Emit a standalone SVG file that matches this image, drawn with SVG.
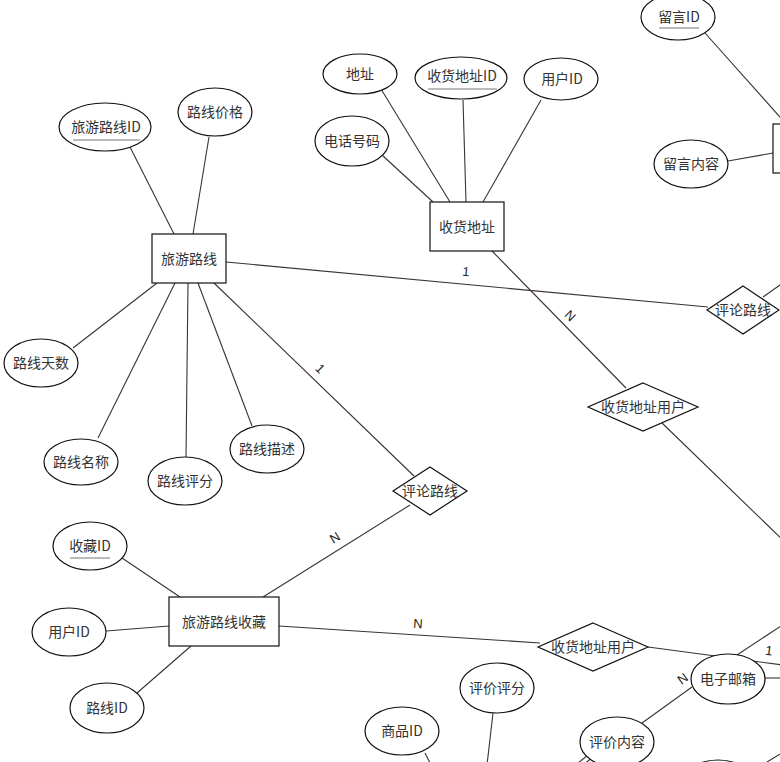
<svg xmlns="http://www.w3.org/2000/svg" width="780" height="762" viewBox="0 0 780 762">
<style>
.ln{stroke:#3c3232;stroke-width:1.1;fill:none}
.sh{fill:#fff;stroke:#111;stroke-width:1.2}
.t{font-family:"Noto Sans CJK SC","Noto Sans CJK JP",sans-serif;font-size:14px;fill:#333;text-anchor:middle}
.c{font-family:"Liberation Sans",Arial,sans-serif;font-size:13px;fill:#222;text-anchor:middle}
.ul{stroke:#777;stroke-width:1}
</style>
<rect width="780" height="762" fill="#fff"/>
<g id="connectors">
<line class="ln" x1="130" y1="147" x2="174" y2="234"/>
<line class="ln" x1="209" y1="137" x2="193" y2="234"/>
<line class="ln" x1="157" y1="283" x2="73" y2="348"/>
<line class="ln" x1="175" y1="283" x2="98" y2="438"/>
<line class="ln" x1="188" y1="283" x2="186" y2="457"/>
<line class="ln" x1="198" y1="283" x2="252" y2="426"/>
<line class="ln" x1="214" y1="283" x2="414" y2="476"/>
<line class="ln" x1="410" y1="505" x2="263" y2="597"/>
<line class="ln" x1="226" y1="262" x2="708" y2="307"/>
<line class="ln" x1="763" y1="297" x2="790" y2="278"/>
<line class="ln" x1="492" y1="251" x2="626" y2="388"/>
<line class="ln" x1="662" y1="423" x2="790" y2="547"/>
<line class="ln" x1="279" y1="626" x2="540" y2="643"/>
<line class="ln" x1="648" y1="647" x2="790" y2="666"/>
<line class="ln" x1="737" y1="655" x2="790" y2="620"/>
<line class="ln" x1="765" y1="678" x2="790" y2="678"/>
<line class="ln" x1="692" y1="687" x2="642" y2="723"/>
<line class="ln" x1="593" y1="757" x2="578" y2="769"/>
<line class="ln" x1="588" y1="755" x2="573" y2="767"/>
<line class="ln" x1="767" y1="762" x2="790" y2="748"/>
<line class="ln" x1="493" y1="713" x2="487" y2="765"/>
<line class="ln" x1="425" y1="753" x2="431" y2="765"/>
<line class="ln" x1="705" y1="33" x2="787" y2="125"/>
<line class="ln" x1="728" y1="161" x2="773" y2="153"/>
<line class="ln" x1="382" y1="155" x2="433" y2="202"/>
<line class="ln" x1="381" y1="89" x2="450" y2="202"/>
<line class="ln" x1="463" y1="100" x2="466" y2="202"/>
<line class="ln" x1="541" y1="100" x2="483" y2="202"/>
<line class="ln" x1="122" y1="558" x2="180" y2="597"/>
<line class="ln" x1="106" y1="631" x2="169" y2="626"/>
<line class="ln" x1="137" y1="693" x2="191" y2="646"/>
<text class="c" x="466" y="276" transform="rotate(5 466 272)">1</text>
<text class="c" x="570" y="320" transform="rotate(45 570 316)">N</text>
<text class="c" x="320" y="373" transform="rotate(44 320 369)">1</text>
<text class="c" x="335" y="542" transform="rotate(-32 335 538)">N</text>
<text class="c" x="418" y="628" transform="rotate(4 418 624)">N</text>
<text class="c" x="769" y="655" transform="rotate(8 769 651)">1</text>
<text class="c" x="683" y="683" transform="rotate(-36 683 679)">N</text>
</g>
<g id="e-travel-route"><rect class="sh" x="152" y="234" width="74" height="49"/><text class="t" x="189" y="264">旅游路线</text></g>
<g id="e-address"><rect class="sh" x="430" y="202" width="74" height="49"/><text class="t" x="467" y="232">收货地址</text></g>
<g id="e-favorite"><rect class="sh" x="169" y="597" width="110" height="49"/><text class="t" x="224" y="627">旅游路线收藏</text></g>
<g id="e-message"><rect class="sh" x="773" y="124" width="60" height="49"/></g>
<g id="a-msg-id"><ellipse class="sh" cx="678" cy="17" rx="37" ry="23"/><text class="t" x="679" y="22">留言ID</text><line class="ul" x1="659" y1="28" x2="699" y2="28"/></g>
<g id="a-msg-content"><ellipse class="sh" cx="691" cy="164" rx="37" ry="24"/><text class="t" x="691" y="169">留言内容</text></g>
<g id="a-addr"><ellipse class="sh" cx="360" cy="74" rx="37" ry="20"/><text class="t" x="360" y="79">地址</text></g>
<g id="a-addr-id"><ellipse class="sh" cx="461" cy="78" rx="46" ry="21"/><text class="t" x="462" y="81">收货地址ID</text><line class="ul" x1="428" y1="89" x2="497" y2="89"/></g>
<g id="a-user-id-1"><ellipse class="sh" cx="561" cy="79" rx="37" ry="21"/><text class="t" x="562" y="84">用户ID</text></g>
<g id="a-phone"><ellipse class="sh" cx="352" cy="141" rx="37" ry="25"/><text class="t" x="352" y="146">电话号码</text></g>
<g id="a-route-id"><ellipse class="sh" cx="105" cy="127" rx="46" ry="24"/><text class="t" x="106" y="132">旅游路线ID</text><line class="ul" x1="73" y1="140" x2="140" y2="140"/></g>
<g id="a-price"><ellipse class="sh" cx="215" cy="112" rx="37" ry="24"/><text class="t" x="215" y="117">路线价格</text></g>
<g id="a-days"><ellipse class="sh" cx="41" cy="363" rx="37" ry="24"/><text class="t" x="41" y="368">路线天数</text></g>
<g id="a-name"><ellipse class="sh" cx="81" cy="462" rx="37" ry="23"/><text class="t" x="81" y="467">路线名称</text></g>
<g id="a-score"><ellipse class="sh" cx="185" cy="481" rx="37" ry="24"/><text class="t" x="185" y="486">路线评分</text></g>
<g id="a-desc"><ellipse class="sh" cx="267" cy="449" rx="37" ry="24"/><text class="t" x="267" y="454">路线描述</text></g>
<g id="a-fav-id"><ellipse class="sh" cx="90" cy="546" rx="37" ry="24"/><text class="t" x="90" y="551">收藏ID</text><line class="ul" x1="70" y1="558" x2="110" y2="558"/></g>
<g id="a-user-id-2"><ellipse class="sh" cx="69" cy="632" rx="37" ry="24"/><text class="t" x="69" y="637">用户ID</text></g>
<g id="a-line-id"><ellipse class="sh" cx="107" cy="708" rx="37" ry="25"/><text class="t" x="107" y="713">路线ID</text></g>
<g id="a-rate-score"><ellipse class="sh" cx="497" cy="688" rx="37" ry="25"/><text class="t" x="497" y="693">评价评分</text></g>
<g id="a-goods-id"><ellipse class="sh" cx="402" cy="731" rx="37" ry="24"/><text class="t" x="402" y="736">商品ID</text></g>
<g id="a-rate-content"><ellipse class="sh" cx="617" cy="742" rx="37" ry="25"/><text class="t" x="617" y="747">评价内容</text></g>
<g id="a-email"><ellipse class="sh" cx="728" cy="679" rx="37" ry="25"/><text class="t" x="728" y="684">电子邮箱</text></g>
<g id="a-bottom"><ellipse class="sh" cx="718" cy="785" rx="37" ry="25"/></g>
<g id="r-comment-1"><polygon class="sh" points="743,286 779,310 743,334 707,310"/><text class="t" x="743" y="315">评论路线</text></g>
<g id="r-addr-user-1"><polygon class="sh" points="643,383 698,407 643,431 588,407"/><text class="t" x="643" y="412">收货地址用户</text></g>
<g id="r-comment-2"><polygon class="sh" points="430,467 467,491 430,515 393,491"/><text class="t" x="430" y="496">评论路线</text></g>
<g id="r-addr-user-2"><polygon class="sh" points="593,623 648,647 593,671 538,647"/><text class="t" x="593" y="652">收货地址用户</text></g>
</svg>
